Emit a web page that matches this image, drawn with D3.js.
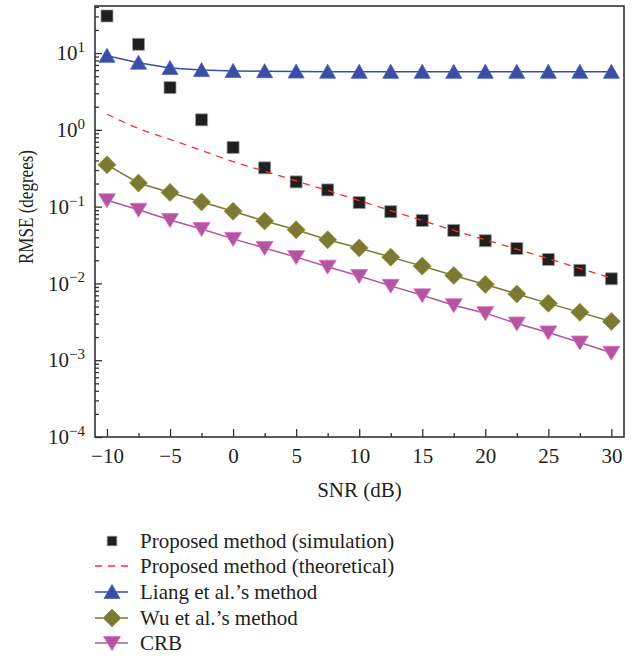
<!DOCTYPE html>
<html lang="en">
<head>
  <meta charset="UTF-8">
  <title>RMSE vs SNR</title>
  <script src="https://d3js.org/d3.v7.min.js"></script>
  <style>
    body { margin: 0; background: #fff; }
    text { font-family: "Liberation Serif", "Times New Roman", serif; fill: #231f20; }
    .axis path { stroke: none; }
    .axis line { stroke: #333; stroke-width: 1.3; }
  </style>
</head>
<body>
  <svg width="638" height="656"></svg>

  <script>
    // data
    const snr = [-10, -7.5, -5, -2.5, 0, 2.5, 5, 7.5, 10, 12.5, 15, 17.5, 20, 22.5, 25, 27.5, 30];
    const simulation = [30.4, 13, 3.55, 1.35, 0.59, 0.32, 0.21, 0.165, 0.113, 0.086, 0.066, 0.049, 0.036, 0.0285, 0.0205, 0.0148, 0.0115];
    const theoretical = [1.6, 1.04, 0.75, 0.54, 0.385, 0.29, 0.216, 0.162, 0.12, 0.089, 0.066, 0.049, 0.037, 0.028, 0.021, 0.0157, 0.0117];
    const liang = [9.2, 7.5, 6.4, 6.0, 5.85, 5.8, 5.75, 5.72, 5.7, 5.7, 5.7, 5.7, 5.7, 5.7, 5.7, 5.7, 5.7];
    const wu = [0.35, 0.203, 0.153, 0.115, 0.087, 0.065, 0.05, 0.037, 0.029, 0.022, 0.0168, 0.0127, 0.0097, 0.0073, 0.0055, 0.0042, 0.0032];
    const crb = [0.121, 0.091, 0.067, 0.051, 0.038, 0.029, 0.022, 0.0165, 0.0125, 0.0093, 0.007, 0.0052, 0.0041, 0.003, 0.0023, 0.0017, 0.00125];
    const xTicks = [-10, -5, 0, 5, 10, 15, 20, 25, 30];
    const yTicks = [1e-4, 1e-3, 1e-2, 1e-1, 1, 10];
    const legendNames = ["Proposed method (simulation)", "Proposed method (theoretical)", "Liang et al.’s method", "Wu et al.’s method", "CRB"];

    const plot = { left: 95, right: 624, top: 6, bottom: 437 };
    const svg = d3.select("svg");

    const x = d3.scaleLinear().domain([-10.95, 31]).range([plot.left, plot.right]);
    const y = d3.scaleLog().domain([1e-4, 41]).range([plot.bottom, plot.top]);

    // marker shapes
    const sym = {
      square: "M-6,-6H6V6H-6Z",
      up: "M0,-7.5L8,6.5L-8,6.5Z",
      diamond: "M0,-9L9,0L0,9L-9,0Z",
      down: "M0,7.5L8.5,-6.5L-8.5,-6.5Z"
    };

    const series = [
      { vals: simulation, color: "#1f1f1f", stroke: "#9a9a9a", marker: "square", line: false },
      { vals: theoretical, color: "#ff2b2b", marker: null, line: true, dash: "7,6" },
      { vals: liang, color: "#3a4fa3", marker: "up", line: true },
      { vals: wu, color: "#7b7a33", marker: "diamond", line: true },
      { vals: crb, color: "#b4569f", marker: "down", line: true }
    ];

    // minor ticks
    const minorY = y.ticks().filter(v => Math.abs(Math.log10(v) - Math.round(Math.log10(v))) > 1e-6);
    svg.append("g").attr("class", "axis")
      .attr("transform", `translate(${plot.left},0)`)
      .call(d3.axisLeft(y).tickValues(minorY).tickSizeInner(-4).tickSizeOuter(0).tickFormat(""));

    svg.append("g").attr("class", "axis")
      .attr("transform", `translate(0,${plot.bottom})`)
      .call(d3.axisBottom(x).tickValues(d3.range(-7.5, 30, 5)).tickSizeInner(-4).tickSizeOuter(0).tickFormat(""));

    // major y ticks, labels as 10^n
    const yAxis = svg.append("g").attr("class", "axis")
      .attr("transform", `translate(${plot.left},0)`)
      .call(d3.axisLeft(y).tickValues(yTicks).tickSizeInner(-7).tickSizeOuter(0).tickPadding(10).tickFormat(""));
    yAxis.selectAll(".tick text").each(function (d) {
      const t = d3.select(this).attr("font-size", 21).attr("dy", "0.32em");
      const p = Math.round(Math.log10(d));
      t.append("tspan").text("10");
      t.append("tspan").attr("font-size", 15).attr("dy", "-0.55em").text(p < 0 ? "\u2212" + (-p) : p);
    });

    svg.append("g").attr("class", "axis")
      .attr("transform", `translate(0,${plot.bottom})`)
      .call(d3.axisBottom(x).tickValues(xTicks).tickSizeInner(-8).tickSizeOuter(0).tickPadding(11))
      .selectAll("text").attr("font-size", 21).attr("font-family", null);

    // frame
    svg.append("rect")
      .attr("x", plot.left).attr("y", plot.top)
      .attr("width", plot.right - plot.left).attr("height", plot.bottom - plot.top)
      .attr("fill", "none").attr("stroke", "#333").attr("stroke-width", 1.6);

    // axis titles
    svg.append("text")
      .attr("x", (plot.left + plot.right) / 2).attr("y", 497)
      .attr("text-anchor", "middle").attr("font-size", 21)
      .text("SNR (dB)");

    svg.append("text")
      .attr("transform", "translate(33,207) rotate(-90)")
      .attr("text-anchor", "middle").attr("font-size", 21)
      .attr("textLength", 114).attr("lengthAdjust", "spacingAndGlyphs")
      .text("RMSE (degrees)");

    // lines and markers
    const line = d3.line().x((d, i) => x(snr[i])).y(d => y(d));
    const curve = d3.line().x((d, i) => x(snr[i])).y(d => y(d)).curve(d3.curveMonotoneX);

    series.forEach(s => {
      if (s.line) {
        svg.append("path")
          .attr("d", (s.dash ? curve : line)(s.vals))
          .attr("fill", "none")
          .attr("stroke", s.color)
          .attr("stroke-width", s.dash ? 1.3 : 1.5)
          .attr("stroke-dasharray", s.dash || null);
      }
      if (s.marker) {
        svg.append("g").selectAll("path")
          .data(s.vals)
          .join("path")
          .attr("transform", (d, i) => `translate(${x(snr[i])},${y(d)})`)
          .attr("d", sym[s.marker])
          .attr("fill", s.color)
          .attr("stroke", s.stroke || d3.color(s.color).brighter(0.6))
          .attr("stroke-width", 0.8);
      }
    });

    // legend
    const rowY = [541, 566, 592, 618, 643];
    const leg = svg.append("g");
    series.forEach((s, i) => {
      const g = leg.append("g").attr("transform", `translate(0,${rowY[i]})`);
      if (s.line) {
        g.append("line")
          .attr("x1", 95).attr("x2", 128)
          .attr("stroke", s.color).attr("stroke-width", s.dash ? 1.3 : 1.5)
          .attr("stroke-dasharray", s.dash || null);
      }
      if (s.marker) {
        g.append("path")
          .attr("transform", `translate(112,0)${s.marker === "square" ? " scale(0.8)" : ""}`)
          .attr("d", sym[s.marker])
          .attr("fill", s.color)
          .attr("stroke", s.stroke || d3.color(s.color).brighter(0.6))
          .attr("stroke-width", 0.8);
      }
      g.append("text")
        .attr("x", 140).attr("y", 0).attr("dy", "0.32em")
        .attr("font-size", 21)
        .text(legendNames[i]);
    });
  </script>
</body>
</html>
